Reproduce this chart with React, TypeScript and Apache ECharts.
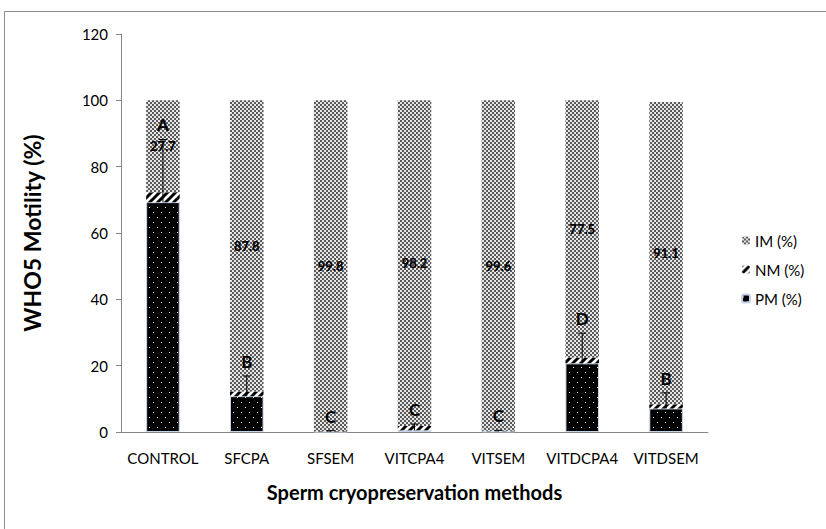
import React, { useEffect, useRef } from "react";
import * as echarts from "echarts";

const categories = ["CONTROL", "SFCPA", "SFSEM", "VITCPA4", "VITSEM", "VITDCPA4", "VITDSEM"];
const pmValues = [69.3, 10.8, 0.1, 0.5, 0.2, 20.7, 7.1];
const nmValues = [3.0, 1.4, 0.1, 1.3, 0.2, 1.8, 1.3];
const imValues = [27.7, 87.8, 99.8, 98.2, 99.6, 77.5, 91.1];
const pmErrors = [18.9, 6.1, 0.3, 1.9, 0.3, 9.1, 4.7];
const groupLetters = ["A", "B", "C", "C", "C", "D", "B"];
const yTicks = [0, 20, 40, 60, 80, 100, 120];

const FONT = "Lato, 'Open Sans', sans-serif";

function makeCanvas(w: number, h: number, draw: (ctx: CanvasRenderingContext2D) => void) {
  const c = document.createElement("canvas");
  c.width = w;
  c.height = h;
  const ctx = c.getContext("2d")!;
  draw(ctx);
  return c;
}

function imPattern() {
  const c = makeCanvas(4, 4, (ctx) => {
    ctx.fillStyle = "#e6e6e6";
    ctx.fillRect(0, 0, 4, 4);
    ctx.fillStyle = "#5a5a5a";
    ctx.fillRect(0, 0, 2, 2);
    ctx.fillRect(2, 2, 2, 2);
  });
  return { image: c, repeat: "repeat", imageWidth: 4, imageHeight: 4 } as any;
}

function pmPattern() {
  const c = makeCanvas(8, 10, (ctx) => {
    ctx.fillStyle = "#000000";
    ctx.fillRect(0, 0, 8, 10);
    ctx.fillStyle = "#ffffff";
    ctx.fillRect(1, 2, 1, 1);
    ctx.fillRect(5, 7, 1, 1);
  });
  return { image: c, repeat: "repeat", imageWidth: 8, imageHeight: 10 } as any;
}

function nmPattern() {
  const c = makeCanvas(8, 8, (ctx) => {
    ctx.fillStyle = "#ffffff";
    ctx.fillRect(0, 0, 8, 8);
    ctx.strokeStyle = "#000000";
    ctx.lineWidth = 3;
    ctx.beginPath();
    ctx.moveTo(-2, 10);
    ctx.lineTo(10, -2);
    ctx.moveTo(-6, 6);
    ctx.lineTo(6, -6);
    ctx.moveTo(2, 14);
    ctx.lineTo(14, 2);
    ctx.stroke();
  });
  return { image: c, repeat: "repeat", imageWidth: 8, imageHeight: 8 } as any;
}

export default function App() {
  const ref = useRef<HTMLDivElement>(null);
  useEffect(() => {
    if (!ref.current) return;
    const chart = echarts.init(ref.current, null, { renderer: "svg" });
    const errData = categories.map((_, i) => [i, pmValues[i], pmValues[i] + pmErrors[i], groupLetters[i]]);
    chart.setOption({
      animation: false,
      backgroundColor: "#ffffff",
      textStyle: { fontFamily: FONT },
      grid: { left: 121, top: 34, right: 118, bottom: 97, containLabel: false },
      legend: {
        orient: "vertical",
        left: 736,
        top: 228,
        itemWidth: 8,
        itemHeight: 8,
        itemGap: 14,
        data: ["IM (%)", "NM (%)", "PM (%)"],
        textStyle: { fontFamily: FONT, fontSize: 15, color: "#000" },
      },
      graphic: [
        {
          type: "rect",
          shape: { x: 4.5, y: 11.5, width: 900, height: 700 },
          style: { fill: "none", stroke: "#8c8c8c", lineWidth: 1 },
          silent: true,
        },
      ],
      xAxis: {
        type: "category",
        data: categories,
        axisLine: { lineStyle: { color: "#868686", width: 1 } },
        axisTick: { show: false },
        axisLabel: { color: "#000", fontSize: 15, fontFamily: FONT, margin: 18, interval: 0 },
        name: "Sperm cryopreservation methods",
        nameLocation: "middle",
        nameGap: 50,
        nameTextStyle: { color: "#000", fontSize: 20, fontWeight: "bold", fontFamily: FONT },
      },
      yAxis: {
        type: "value",
        min: 0,
        max: 120,
        interval: 20,
        splitLine: { show: false },
        axisLine: { show: true, lineStyle: { color: "#868686", width: 1 } },
        axisTick: { show: true, length: 5, lineStyle: { color: "#868686" } },
        axisLabel: {
          color: "#000",
          fontSize: 15,
          fontFamily: FONT,
          margin: 13,
          formatter: (v: number) => (yTicks.includes(v) ? String(v) : ""),
        },
        name: "WHO5 Motility (%)",
        nameLocation: "middle",
        nameGap: 78,
        nameTextStyle: { color: "#000", fontSize: 23, fontWeight: "bold", fontFamily: FONT },
      },
      series: [
        {
          name: "PM (%)",
          type: "bar",
          stack: "m",
          barWidth: "40%",
          data: pmValues,
          itemStyle: { color: pmPattern(), borderColor: "#c3d3e8", borderWidth: 1 },
        },
        {
          name: "NM (%)",
          type: "bar",
          stack: "m",
          data: nmValues,
          itemStyle: { color: nmPattern() },
        },
        {
          name: "IM (%)",
          type: "bar",
          stack: "m",
          data: imValues,
          itemStyle: { color: imPattern() },
          label: {
            show: true,
            position: "inside",
            color: "#000",
            fontSize: 13,
            fontWeight: 900,
            fontFamily: FONT,
            formatter: (p: any) => String(p.value),
          },
        },
        {
          name: "err",
          type: "custom",
          data: errData,
          z: 10,
          renderItem: (params: any, api: any) => {
            const x = api.value(0);
            const lo = api.coord([x, api.value(1)]);
            const hi = api.coord([x, api.value(2)]);
            const letter = groupLetters[params.dataIndex];
            const cap = 4;
            return {
              type: "group",
              children: [
                {
                  type: "line",
                  shape: { x1: lo[0], y1: lo[1], x2: hi[0], y2: hi[1] },
                  style: { stroke: "#000", lineWidth: 1 },
                },
                {
                  type: "line",
                  shape: { x1: hi[0] - cap, y1: hi[1], x2: hi[0] + cap, y2: hi[1] },
                  style: { stroke: "#000", lineWidth: 1 },
                },
                {
                  type: "text",
                  x: hi[0],
                  y: hi[1] - 6,
                  style: {
                    text: letter,
                    fill: "#000",
                    font: `bold 17px ${FONT}`,
                    textAlign: "center",
                    textVerticalAlign: "bottom",
                  },
                },
              ],
            };
          },
        },
      ],
    });
    return () => chart.dispose();
  }, []);
  return <div ref={ref} style={{ position: "fixed", left: 0, top: 0, width: 826, height: 529 }} />;
}
